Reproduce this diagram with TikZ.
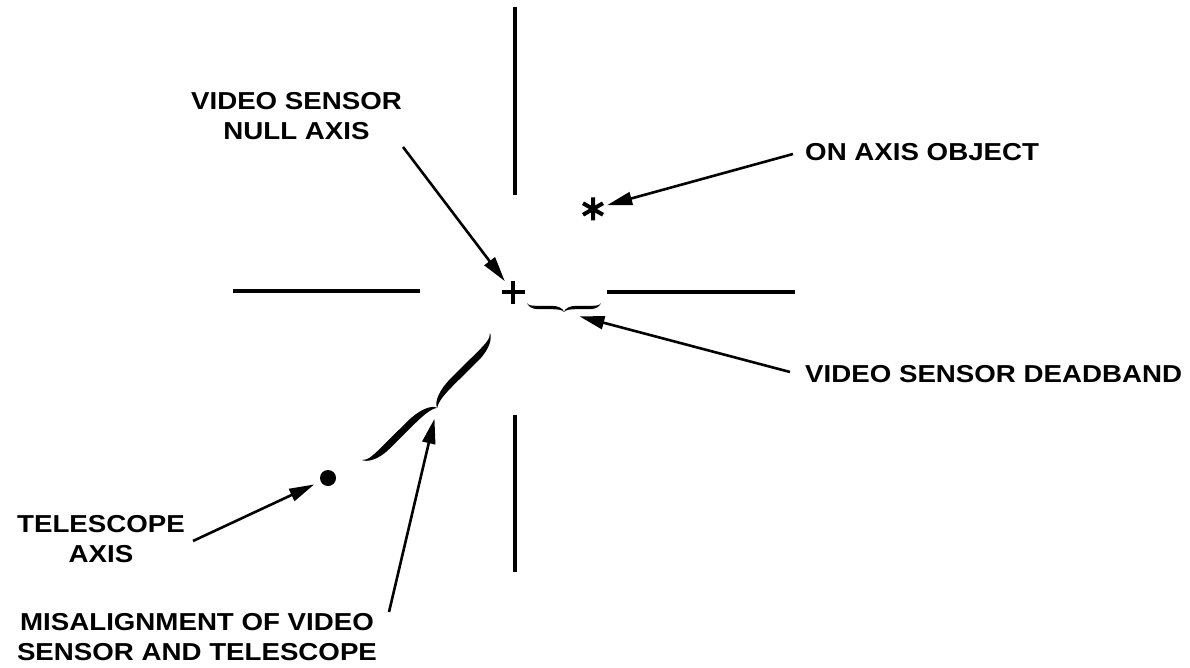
\documentclass[tikz,border=0pt]{standalone}
\usepackage{fontspec}
\setmainfont{Liberation Sans}[FakeStretch=1.13]
\usetikzlibrary{arrows.meta,calc}

% one tapered half of a curly brace, end at the origin, tip at (L/2,-a)
\newcommand\halfbrace[3]{%
  \fill (0,0) .. controls ({0.02*#1},{-0.3*#2}) and ({0.07*#1},{-0.5*#2+#3}) .. ({0.15*#1},{-0.5*#2+#3})
    -- ({0.33*#1},{-0.5*#2+#3}) .. controls ({0.42*#1},{-0.5*#2+#3}) and ({0.49*#1},{-0.6*#2}) .. ({0.5*#1},{-#2})
    .. controls ({0.47*#1},{-0.55*#2-#3}) and ({0.42*#1},{-0.5*#2-#3}) .. ({0.33*#1},{-0.5*#2-#3})
    -- ({0.15*#1},{-0.5*#2-#3}) .. controls ({0.06*#1},{-0.5*#2-#3}) and ({0.01*#1},{-0.3*#2}) .. (0,0) -- cycle;}
% full brace of length L, depth a, half thickness h
\newcommand\tapbrace[3]{%
  \halfbrace{#1}{#2}{#3}%
  \begin{scope}[shift={(#1,0)}, xscale=-1]\halfbrace{#1}{#2}{#3}\end{scope}}

\begin{document}
\begin{tikzpicture}[x=1pt, y=-1pt,
  tag/.style={font=\bfseries\fontsize{24.5}{30.5}\selectfont, inner sep=0pt, align=center},
  hair/.style={line width=4.3pt},
  pointer/.style={line width=2.6pt, -{Triangle[length=25pt,width=13pt]}},
  glyph/.style={line width=3.4pt}]
\useasboundingbox (0,0) rectangle (1190,668);

% crosshair
\draw[hair] (515,7) -- (515,195);
\draw[hair] (515,415) -- (515,572);
\draw[hair] (233,291) -- (420,291);
\draw[hair] (607,292) -- (795,292);

% video sensor null axis
\node (null) [circle, minimum size=27pt, inner sep=0pt] at (513,292) {};
\draw[glyph] ($(null.center)+(-11.5,0)$) -- ($(null.center)+(11.5,0)$)
             ($(null.center)+(0,-11.5)$) -- ($(null.center)+(0,11.5)$);

% on axis object
\node (obj) [circle, minimum size=29pt, inner sep=0pt] at (593,209) {};
\draw[glyph, line width=4pt] ($(obj.center)+(90:11.5)$) -- ($(obj.center)+(-90:11.5)$)
             ($(obj.center)+(30:11.5)$) -- ($(obj.center)+(210:11.5)$)
             ($(obj.center)+(150:11.5)$) -- ($(obj.center)+(330:11.5)$);

% telescope axis
\node (tel) [circle, fill, minimum size=16pt, inner sep=0pt] at (328,478) {};

% deadband brace
\begin{scope}[shift={(527,303)}, x=1pt, y=1pt]
  \tapbrace{74}{9}{1.7}
\end{scope}
\coordinate (db) at (563,312);

% misalignment brace
\begin{scope}[shift={(362,460)}, rotate=44.8, x=1pt, y=1pt]
  \tapbrace{180.3}{16}{3.4}
\end{scope}
\coordinate (mis) at (437,408);

% labels
\node (lnull) [tag, anchor=north] at (296.5,92) {VIDEO SENSOR\\NULL AXIS};
\node (lobj) [tag, anchor=base west] at (805,161) {ON AXIS OBJECT};
\node (ldb) [tag, anchor=base west] at (805,382) {VIDEO SENSOR DEADBAND};
\node (ltel) [tag, anchor=north] at (101,515) {TELESCOPE\\AXIS};
\node (lmis) [tag, anchor=north] at (197,613) {MISALIGNMENT OF VIDEO\\SENSOR AND TELESCOPE};

% pointer tails
\coordinate (tnull) at (403,147);
\coordinate (tobj) at (793,154);
\coordinate (tdb) at (790,372);
\coordinate (ttel) at (193,541);
\coordinate (tmis) at (389,612);

% pointers
\draw[pointer] (tnull) -- (null);
\draw[pointer] (tobj) -- (obj);
\draw[pointer, shorten >=17pt] (tdb) -- (db);
\draw[pointer, shorten >=7pt] (ttel) -- (tel);
\draw[pointer, shorten >=11pt] (tmis) -- (mis);
\end{tikzpicture}
\end{document}
